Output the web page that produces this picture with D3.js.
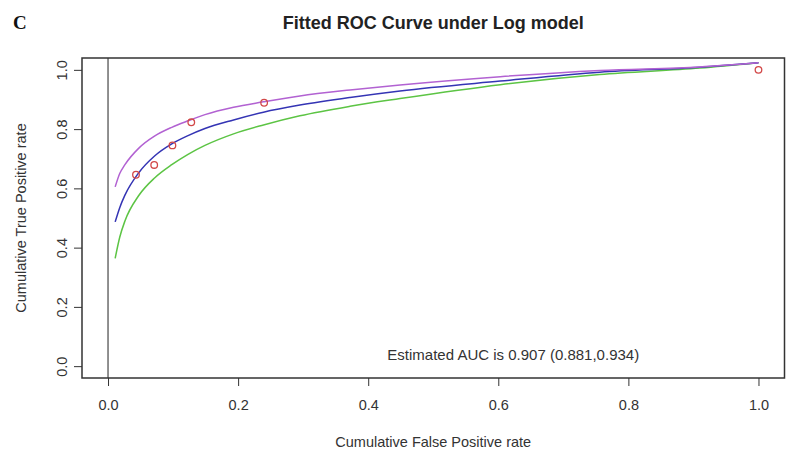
<!DOCTYPE html>
<html>
<head>
<meta charset="utf-8">
<script src="https://cdn.jsdelivr.net/npm/d3@7"></script>
<style>
  body { margin: 0; background: #fff; }
  svg { display: block; font-family: 'Liberation Sans', Arial, sans-serif; }
</style>
</head>
<body>
<svg class="chart"></svg>
<script>
const width = 800
const height = 464
const margin = { top: 58, right: 15.5, bottom: 86, left: 82 }

// fitted curves: [FPR, TPR]
const fprPoints = [0.011, 0.018, 0.026, 0.047, 0.072, 0.098, 0.123, 0.149, 0.193, 0.239, 0.295, 0.372, 0.449, 0.603, 0.756, 0.91, 1.0]
const upperTpr = [0.605, 0.65, 0.68, 0.735, 0.777, 0.806, 0.828, 0.849, 0.874, 0.892, 0.912, 0.932, 0.949, 0.977, 0.998, 1.01, 1.024]
const fittedTpr = [0.487, 0.535, 0.577, 0.652, 0.71, 0.75, 0.778, 0.802, 0.831, 0.857, 0.881, 0.907, 0.929, 0.962, 0.992, 1.009, 1.024]
const lowerTpr = [0.364, 0.435, 0.49, 0.575, 0.636, 0.68, 0.715, 0.745, 0.784, 0.814, 0.845, 0.877, 0.903, 0.95, 0.984, 1.006, 1.024]

// empirical points
const empFpr = [0.043, 0.071, 0.099, 0.128, 0.24, 1.0]
const empTpr = [0.646, 0.679, 0.745, 0.823, 0.889, 1.0]

const xTicks = [0, 0.2, 0.4, 0.6, 0.8, 1.0]
const yTicks = [0, 0.2, 0.4, 0.6, 0.8, 1.0]

const series = [
  { tpr: lowerTpr, color: '#5cc444' },
  { tpr: fittedTpr, color: '#3434b4' },
  { tpr: upperTpr, color: '#b262d2' }
]

const svg = d3.select('.chart').attr('width', width).attr('height', height)

const x = d3.scaleLinear().domain([-0.04, 1.04]).range([margin.left, width - margin.right])
const y = d3.scaleLinear().domain([-0.04, 1.04]).range([height - margin.bottom, margin.top])

const line = d3
  .line()
  .x(d => x(d[0]))
  .y(d => y(d[1]))
  .curve(d3.curveMonotoneX)

svg
  .append('g')
  .selectAll('path')
  .data(series)
  .join('path')
  .attr('d', s => line(fprPoints.map((f, i) => [f, s.tpr[i]])))
  .attr('fill', 'none')
  .attr('stroke', s => s.color)
  .attr('stroke-width', 1.5)

// vertical reference line at FPR = 0
svg
  .append('line')
  .attr('x1', x(0))
  .attr('x2', x(0))
  .attr('y1', margin.top)
  .attr('y2', height - margin.bottom)
  .attr('stroke', '#222')
  .attr('stroke-width', 1)

svg
  .append('g')
  .selectAll('circle')
  .data(empFpr.map((f, i) => [f, empTpr[i]]))
  .join('circle')
  .attr('cx', d => x(d[0]))
  .attr('cy', d => y(d[1]))
  .attr('r', 3.3)
  .attr('fill', 'none')
  .attr('stroke', '#d24848')
  .attr('stroke-width', 1.3)

// plot box
svg
  .append('rect')
  .attr('x', margin.left)
  .attr('y', margin.top)
  .attr('width', width - margin.left - margin.right)
  .attr('height', height - margin.top - margin.bottom)
  .attr('fill', 'none')
  .attr('stroke', '#333')
  .attr('stroke-width', 1.5)

const xAxis = svg
  .append('g')
  .attr('transform', `translate(0,${height - margin.bottom})`)
  .call(d3.axisBottom(x).tickValues(xTicks).tickFormat(d3.format('.1f')).tickSize(8).tickPadding(14))
xAxis.select('.domain').remove()
xAxis.selectAll('line').attr('stroke', '#333')
xAxis.selectAll('text').attr('font-size', 14.5).attr('fill', '#333').attr('font-family', 'Liberation Sans, Arial, sans-serif')

const yAxis = svg
  .append('g')
  .attr('transform', `translate(${margin.left},0)`)
  .call(d3.axisLeft(y).tickValues(yTicks).tickFormat(d3.format('.1f')).tickSize(8))
yAxis.select('.domain').remove()
yAxis.selectAll('line').attr('stroke', '#333')
yAxis
  .selectAll('text')
  .attr('font-size', 14.5)
  .attr('fill', '#333')
  .attr('font-family', 'Liberation Sans, Arial, sans-serif')
  .attr('text-anchor', 'middle')
  .attr('x', null)
  .attr('dy', null)
  .attr('transform', 'translate(-15,0) rotate(-90)')

svg
  .append('text')
  .attr('x', (margin.left + width - margin.right) / 2)
  .attr('y', 29)
  .attr('text-anchor', 'middle')
  .attr('font-weight', 'bold')
  .attr('font-size', 18)
  .attr('fill', '#222')
  .text('Fitted ROC Curve under Log model')

svg
  .append('text')
  .attr('x', 13)
  .attr('y', 29)
  .attr('font-family', 'Liberation Serif, Times New Roman, serif')
  .attr('font-weight', 'bold')
  .attr('font-size', 19)
  .attr('fill', '#111')
  .text('C')

svg
  .append('text')
  .attr('x', (margin.left + width - margin.right) / 2)
  .attr('y', 447)
  .attr('text-anchor', 'middle')
  .attr('font-size', 14.5)
  .attr('fill', '#333')
  .text('Cumulative False Positive rate')

svg
  .append('text')
  .attr('transform', `translate(26,${(margin.top + height - margin.bottom) / 2}) rotate(-90)`)
  .attr('text-anchor', 'middle')
  .attr('font-size', 14.5)
  .attr('fill', '#333')
  .text('Cumulative True Positive rate')

svg
  .append('text')
  .attr('x', x(0.623))
  .attr('y', y(0.02))
  .attr('text-anchor', 'middle')
  .attr('font-size', 15)
  .attr('fill', '#333')
  .text('Estimated AUC is 0.907 (0.881,0.934)')
</script>
</body>
</html>
